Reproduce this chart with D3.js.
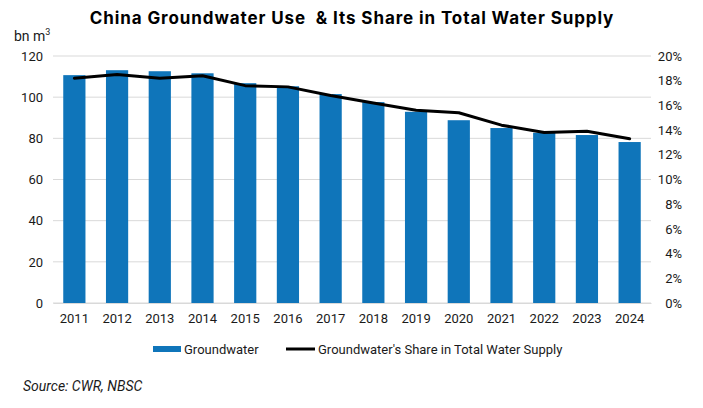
<!DOCTYPE html>
<html>
<head>
<meta charset="utf-8">
<script src="https://cdn.jsdelivr.net/npm/d3@7"></script>
<style>
  body { margin: 0; background: #fff; }
  svg text { font-family: Roboto, sans-serif; fill: #1a1a1a; }
</style>
</head>
<body>
<div id="chart"></div>
<script>
const years = ["2011", "2012", "2013", "2014", "2015", "2016", "2017", "2018", "2019", "2020", "2021", "2022", "2023", "2024"];
const groundwater = [110.7, 113.1, 112.6, 111.6, 106.8, 105.3, 101.5, 97.6, 92.9, 88.8, 85.0, 82.7, 81.6, 78.2];
const shareInTotal = [18.2, 18.5, 18.2, 18.4, 17.6, 17.5, 16.8, 16.2, 15.6, 15.4, 14.4, 13.8, 13.9, 13.3];
const leftTicks = [0, 20, 40, 60, 80, 100, 120];
const rightTicks = [0, 2, 4, 6, 8, 10, 12, 14, 16, 18, 20];

const W = 703, H = 408;
const plot = { left: 53, right: 651, top: 56, bottom: 303 };

const svg = d3.select("#chart").append("svg")
  .attr("width", W)
  .attr("height", H);

const x = d3.scaleBand()
  .domain(years)
  .range([plot.left, plot.right])
  .paddingInner(0.48)
  .paddingOuter(0.24);

const y = d3.scaleLinear().domain([0, 120]).range([plot.bottom, plot.top]);
const y2 = d3.scaleLinear().domain([0, 20]).range([plot.bottom, plot.top]);

// Title
svg.append("text")
  .attr("x", 352)
  .attr("y", 24)
  .attr("text-anchor", "middle")
  .style("font-family", "Inter, sans-serif")
  .style("font-weight", "bold")
  .style("font-size", "17px")
  .style("letter-spacing", "0.9px")
  .style("fill", "#000")
  .style("white-space", "pre")
  .text("China Groundwater Use  & Its Share in Total Water Supply");

// Unit label
const unit = svg.append("text")
  .attr("x", 14)
  .attr("y", 41)
  .style("font-size", "14px");
unit.append("tspan").text("bn m");
unit.append("tspan").attr("dy", -6).style("font-size", "9px").text("3");

// Gridlines
svg.append("g")
  .selectAll("line")
  .data(leftTicks)
  .join("line")
  .attr("x1", plot.left)
  .attr("x2", plot.right)
  .attr("y1", d => y(d))
  .attr("y2", d => y(d))
  .attr("stroke", "#d9d9d9")
  .attr("stroke-width", 1);

// Left axis
const leftAxis = svg.append("g")
  .attr("transform", `translate(${plot.left},0)`)
  .call(d3.axisLeft(y).tickValues(leftTicks).tickSize(0).tickPadding(10));
leftAxis.select(".domain").remove();
leftAxis.selectAll("text").style("font-size", "13px");

// Right axis
const rightAxis = svg.append("g")
  .attr("transform", `translate(${plot.right},0)`)
  .call(d3.axisRight(y2).tickValues(rightTicks).tickSize(0).tickPadding(8).tickFormat(d => d + "%"));
rightAxis.select(".domain").remove();
rightAxis.selectAll("text")
  .style("font-size", "13px")
  .attr("text-anchor", "end")
  .attr("x", 31);

// Bars
svg.append("g")
  .selectAll("rect")
  .data(groundwater)
  .join("rect")
  .attr("x", (d, i) => x(years[i]))
  .attr("y", d => y(d))
  .attr("width", x.bandwidth())
  .attr("height", d => y(0) - y(d))
  .attr("fill", "#0f75ba");

// Bottom axis
const bottomAxis = svg.append("g")
  .attr("transform", `translate(0,${plot.bottom})`)
  .call(d3.axisBottom(x).tickSize(0).tickPadding(11));
bottomAxis.select(".domain").attr("stroke", "#d9d9d9");
bottomAxis.selectAll("text").style("font-size", "13px");

// Share line
const line = d3.line()
  .x((d, i) => x(years[i]) + x.bandwidth() / 2)
  .y(d => y2(d));

svg.append("path")
  .datum(shareInTotal)
  .attr("fill", "none")
  .attr("stroke", "#000")
  .attr("stroke-width", 3)
  .attr("stroke-linejoin", "round")
  .attr("stroke-linecap", "round")
  .attr("d", line);

// Legend
const legend = svg.append("g").attr("transform", "translate(153,349)");
legend.append("rect")
  .attr("x", 0).attr("y", -3)
  .attr("width", 28).attr("height", 6)
  .attr("fill", "#0f75ba");
legend.append("text")
  .attr("x", 31).attr("y", 4.5)
  .style("font-size", "13px")
  .text("Groundwater");
legend.append("line")
  .attr("x1", 133).attr("x2", 162)
  .attr("y1", 0).attr("y2", 0)
  .attr("stroke", "#000")
  .attr("stroke-width", 3);
legend.append("text")
  .attr("x", 165).attr("y", 4.5)
  .style("font-size", "13px")
  .text("Groundwater's Share in Total Water Supply");

// Source
svg.append("text")
  .attr("x", 23)
  .attr("y", 391)
  .style("font-size", "14px")
  .style("font-style", "italic")
  .text("Source: CWR, NBSC");
</script>
</body>
</html>
